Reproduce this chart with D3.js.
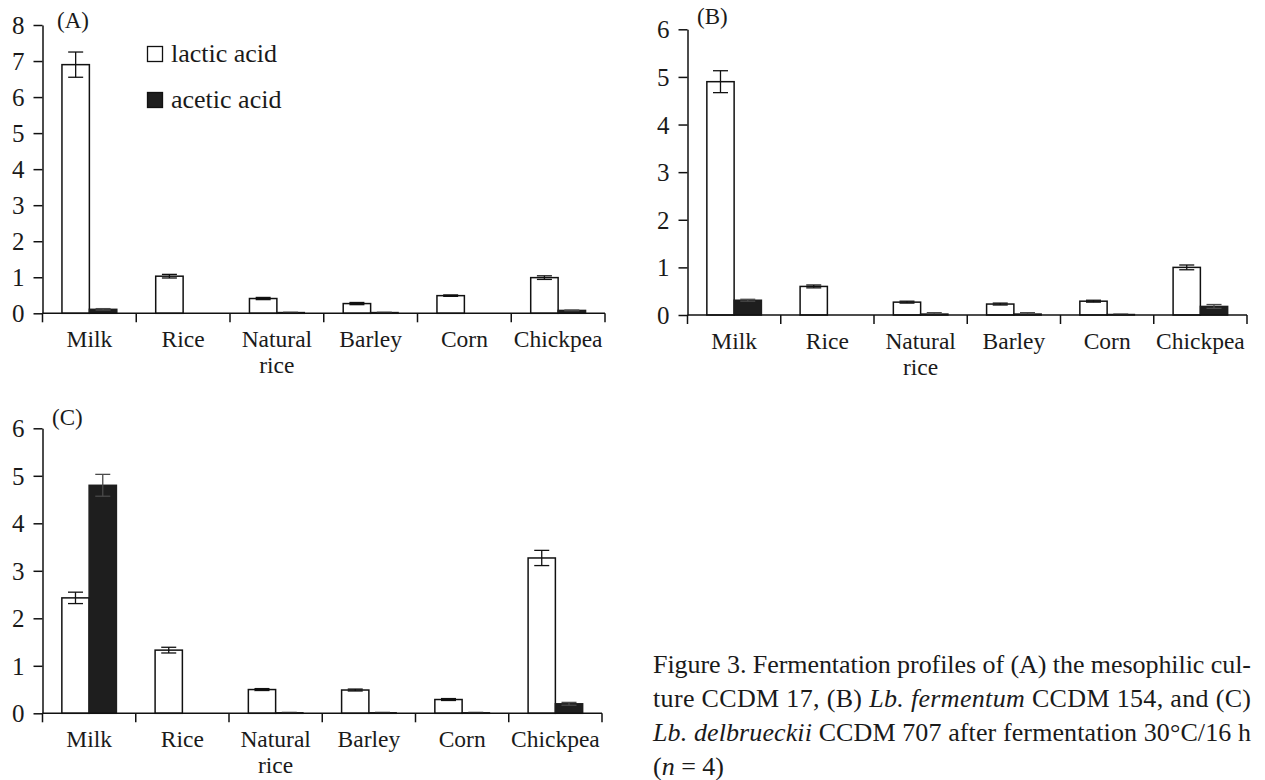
<!DOCTYPE html>
<html><head><meta charset="utf-8">
<script src="https://cdn.jsdelivr.net/npm/d3@7"></script>
<style>
body{margin:0;background:#fff}
svg{display:block}
text{font-family:"Liberation Serif","Times New Roman",serif;fill:#1a1a1a}
</style></head>
<body><svg id="chart" width="1265" height="780"></svg>
<script>
const categories = ["Milk","Rice","Natural rice","Barley","Corn","Chickpea"];
const seriesNames = ["lactic acid","acetic acid"];

const lacticA = [6.9, 1.03, 0.41, 0.27, 0.49, 0.99];
const lacticAErr = [0.35, 0.05, 0.03, 0.03, 0.02, 0.05];
const aceticA = [0.11, 0, 0.02, 0.02, 0, 0.08];
const aceticAErr = [0.02, 0, 0.01, 0.01, 0, 0.01];

const lacticB = [4.9, 0.6, 0.27, 0.23, 0.29, 1.0];
const lacticBErr = [0.23, 0.03, 0.02, 0.02, 0.02, 0.05];
const aceticB = [0.31, 0, 0.02, 0.02, 0.01, 0.18];
const aceticBErr = [0.02, 0, 0.03, 0.03, 0.01, 0.04];

const lacticC = [2.43, 1.33, 0.5, 0.49, 0.29, 3.27];
const lacticCErr = [0.12, 0.06, 0.02, 0.02, 0.02, 0.16];
const aceticC = [4.8, 0, 0.01, 0.01, 0.01, 0.2];
const aceticCErr = [0.23, 0, 0.01, 0.01, 0.01, 0.03];

const yMaxA = 8, yMaxB = 6, yMaxC = 6;
const panelLabels = ["(A)","(B)","(C)"];

const captionLines = [
  [["Figure 3. Fermentation profiles of (A) the mesophilic cul-", false]],
  [["ture CCDM 17, (B) ", false], ["Lb. fermentum", true], [" CCDM 154, and (C)", false]],
  [["Lb. delbrueckii", true], [" CCDM 707 after fermentation 30°C/16 h", false]],
  [["(", false], ["n", true], [" = 4)", false]]
];

const svg = d3.select("#chart");
const FS_TICK = 25, FS_CAT = 23.5, FS_LAB = 23, FS_CAP = 26;
const fill = ["#ffffff", "#1e1e1e"];

function panel(cfg) {
  const g = svg.append("g");
  const x = d3.scaleBand().domain(categories).range([cfg.x0, cfg.x1]).padding(0);
  const groupW = x.bandwidth() * 0.585;
  const xs = d3.scaleBand().domain(seriesNames).range([0, groupW]).padding(0);
  const y = d3.scaleLinear().domain([0, cfg.max]).range([cfg.yBot, cfg.yTop]);

  const rows = [];
  categories.forEach((c, i) => {
    rows.push({c, s: seriesNames[0], v: cfg.lac[i], e: cfg.lacE[i], k: 0});
    rows.push({c, s: seriesNames[1], v: cfg.ace[i], e: cfg.aceE[i], k: 1});
  });
  const off = (x.bandwidth() - groupW) / 2;
  const cx = d => x(d.c) + off + xs(d.s) + xs.bandwidth() / 2;

  g.selectAll("rect.bar").data(rows).join("rect")
    .attr("class", "bar")
    .attr("x", d => x(d.c) + off + xs(d.s))
    .attr("y", d => y(d.v))
    .attr("width", xs.bandwidth())
    .attr("height", d => y(0) - y(d.v))
    .attr("fill", d => fill[d.k])
    .attr("stroke", d => d.k ? "#1e1e1e" : "#111")
    .attr("stroke-width", 1.5);

  const cap = 15;
  const eg = g.selectAll("g.err").data(rows.filter(d => d.e > 0)).join("g")
    .attr("class", "err")
    .attr("stroke", d => d.k ? "#4a4a4a" : "#111")
    .attr("stroke-width", 1.3);
  eg.append("line")
    .attr("x1", cx).attr("x2", cx)
    .attr("y1", d => y(d.v + d.e)).attr("y2", d => y(Math.max(0, d.v - d.e)));
  eg.append("line")
    .attr("x1", d => cx(d) - cap / 2).attr("x2", d => cx(d) + cap / 2)
    .attr("y1", d => y(d.v + d.e)).attr("y2", d => y(d.v + d.e));
  eg.append("line")
    .attr("x1", d => cx(d) - cap / 2).attr("x2", d => cx(d) + cap / 2)
    .attr("y1", d => y(Math.max(0, d.v - d.e))).attr("y2", d => y(Math.max(0, d.v - d.e)));

  const ya = g.append("g").attr("transform", `translate(${cfg.x0},0)`)
    .call(d3.axisLeft(y).ticks(cfg.max).tickSize(9).tickSizeOuter(0).tickPadding(9).tickFormat(d3.format("d")));
  ya.selectAll("path,line").attr("stroke", "#111").attr("stroke-width", 1.5);
  ya.selectAll("text").attr("font-size", FS_TICK).attr("font-family", "Liberation Serif").attr("fill", "#1a1a1a")
    .attr("dy", "0.34em");

  const xa = g.append("g");
  xa.append("line").attr("x1", cfg.x0).attr("x2", cfg.x1).attr("y1", y(0)).attr("y2", y(0))
    .attr("stroke", "#111").attr("stroke-width", 1.5);
  const bounds = categories.map(c => x(c)).concat([cfg.x1]);
  xa.selectAll("line.tk").data(bounds).join("line").attr("class", "tk")
    .attr("x1", d => d).attr("x2", d => d).attr("y1", y(0)).attr("y2", y(0) + 9)
    .attr("stroke", "#111").attr("stroke-width", 1.5);
  xa.selectAll("g.cat").data(categories).join("g").attr("class", "cat")
    .each(function(d) {
      const parts = d.split(" ");
      parts.forEach((p, j) => d3.select(this).append("text")
        .attr("text-anchor", "middle").attr("font-size", FS_CAT)
        .attr("x", x(d) + x.bandwidth() / 2).attr("y", y(0) + 34 + j * 26).text(p));
    });

  g.append("text").attr("x", cfg.lx).attr("y", cfg.ly).attr("font-size", FS_LAB).text(cfg.label);
  return {x, y};
}

panel({x0: 42.5, x1: 605, yTop: 25, yBot: 313.3, max: yMaxA, lac: lacticA, lacE: lacticAErr, ace: aceticA, aceE: aceticAErr, label: panelLabels[0], lx: 57, ly: 28});
panel({x0: 687.5, x1: 1247, yTop: 29.3, yBot: 315, max: yMaxB, lac: lacticB, lacE: lacticBErr, ace: aceticB, aceE: aceticBErr, label: panelLabels[1], lx: 697, ly: 24});
panel({x0: 42.5, x1: 602, yTop: 428.3, yBot: 713.3, max: yMaxC, lac: lacticC, lacE: lacticCErr, ace: aceticC, aceE: aceticCErr, label: panelLabels[2], lx: 52, ly: 425});

const leg = svg.append("g");
seriesNames.forEach((s, i) => {
  leg.append("rect").attr("x", 147.5).attr("y", 46.5 + i * 46).attr("width", 15).attr("height", 15)
    .attr("fill", fill[i]).attr("stroke", "#111").attr("stroke-width", 1.3);
  leg.append("text").attr("x", 171).attr("y", 62 + i * 46).attr("font-size", 26).text(s);
});

const capG = svg.append("g");
captionLines.forEach((line, i) => {
  const t = capG.append("text").attr("x", 653).attr("y", 673 + i * 34).attr("font-size", FS_CAP);
  line.forEach(([s, it]) => t.append("tspan").attr("font-style", it ? "italic" : "normal").text(s));
  if (i < 3) t.attr("textLength", 598).attr("lengthAdjust", "spacing");
});
</script></body></html>
